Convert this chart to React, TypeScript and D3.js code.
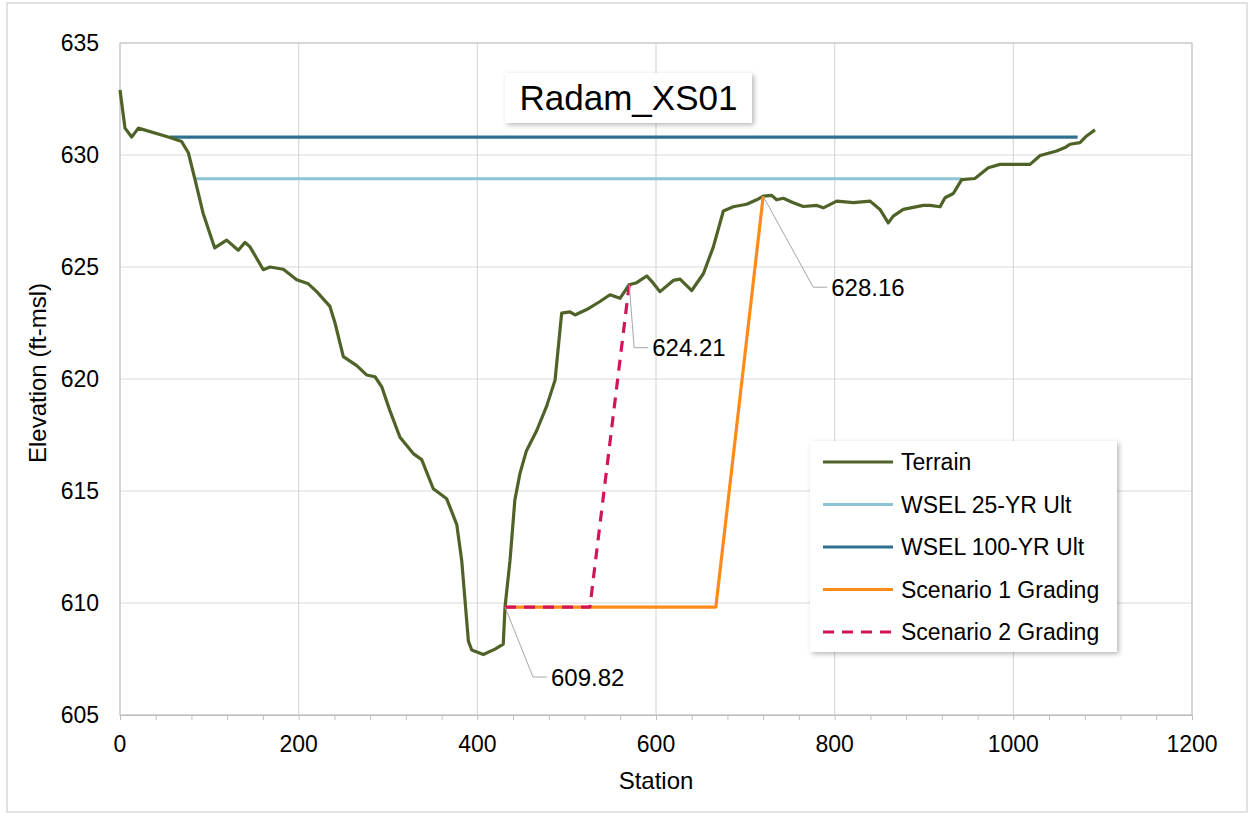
import React, { useEffect, useRef } from "react"
import * as d3 from "d3"

// terrain profile [station, elevation]
const terrain: [number, number][] = [
    [0, 632.9], [5.6, 631.2], [13.1, 630.8], [20.5, 631.2], [56, 630.78],
    [69, 630.6], [76.5, 630.1], [84, 628.9], [93, 627.4], [106, 625.85],
    [119.4, 626.2], [132.4, 625.75], [140, 626.1], [145.5, 625.9], [160.4, 624.88],
    [168, 625.0], [182.8, 624.9], [197.8, 624.43], [210.8, 624.25], [220.2, 623.9],
    [235, 623.24], [240.7, 622.5], [250, 621.0], [265, 620.6], [276, 620.18],
    [285.5, 620.1], [293, 619.65], [302, 618.6], [313.4, 617.4], [328.3, 616.67],
    [337.7, 616.4], [350.7, 615.1], [365.7, 614.65], [377, 613.5], [382.5, 611.9],
    [390, 608.3], [393.7, 607.9], [406.7, 607.7], [419.8, 607.94], [429, 608.16],
    [431, 609.82], [436.6, 611.9], [442, 614.6], [447.8, 615.8], [455, 616.8],
    [466.5, 617.7], [477.7, 618.8], [487, 619.95], [494.4, 622.94], [503.7, 623.0],
    [509.3, 622.86], [522.4, 623.1], [537.3, 623.46], [548.5, 623.76], [559.7, 623.6],
    [570, 624.21], [578.4, 624.3], [589.6, 624.6], [595.2, 624.36], [604.5, 623.9],
    [619.4, 624.4], [626.9, 624.46], [640, 623.95], [653, 624.7], [664.2, 625.9],
    [675.4, 627.5], [686.5, 627.69], [701.5, 627.8], [712.7, 628.0], [720, 628.16],
    [729.5, 628.2], [735, 628.0], [742.5, 628.07], [753.7, 627.87], [764.9, 627.7],
    [780, 627.75], [787.3, 627.64], [802.3, 627.94], [820.9, 627.87], [839.6, 627.94],
    [850.7, 627.57], [860, 626.97], [865.6, 627.27], [876.8, 627.57], [899.2, 627.75],
    [906.7, 627.75], [918, 627.69], [923.5, 628.09], [932.8, 628.28], [942.2, 628.9],
    [957, 628.95], [972, 629.43], [985, 629.58], [1000, 629.58], [1018.7, 629.58],
    [1030, 629.98], [1048.5, 630.18], [1057.8, 630.33], [1063.4, 630.48], [1074.6, 630.55],
    [1082, 630.85], [1091.4, 631.12],
]

const wsel25: [number, number][] = [[84, 628.94], [942, 628.94]]
const wsel100: [number, number][] = [[56, 630.8], [1072, 630.8]]
const scenario1: [number, number][] = [[431, 609.82], [667, 609.82], [720, 628.16]]
const scenario2: [number, number][] = [[431, 609.82], [526, 609.82], [570, 624.21]]

const xTicks = [0, 200, 400, 600, 800, 1000, 1200]
const yTicks = [605, 610, 615, 620, 625, 630, 635]

// callouts: anchor point, elbow offset, label
const callouts = [
    { st: 431, el: 609.82, dx: 28, dy: 70, text: "609.82" },
    { st: 570, el: 624.21, dx: 5, dy: 63, text: "624.21" },
    { st: 720, el: 628.16, dx: 50, dy: 91, text: "628.16" },
]

const series = [
    { name: "Terrain", data: terrain, color: "#4f6228", dash: null },
    { name: "WSEL 25-YR Ult", data: wsel25, color: "#8cc3d6", dash: null },
    { name: "WSEL 100-YR Ult", data: wsel100, color: "#2f7090", dash: null },
    { name: "Scenario 1 Grading", data: scenario1, color: "#ff8c1a", dash: null },
    { name: "Scenario 2 Grading", data: scenario2, color: "#d2145a", dash: "11,8" },
]

const FONT = "'Liberation Sans', Arial, sans-serif"

const App = () => {
    const svgRef = useRef<SVGSVGElement>(null)

    useEffect(() => {
        if (!svgRef.current) return
        const svg = d3.select(svgRef.current)
        svg.selectAll("*").remove()

        const W = 1251
        const H = 817
        const left = 120
        const right = 1192
        const top = 43
        const bottom = 715

        const x = d3.scaleLinear().domain([0, 1200]).range([left, right])
        const y = d3.scaleLinear().domain([605, 635]).range([bottom, top])

        const defs = svg.append("defs")
        const f = defs.append("filter").attr("id", "shadow")
            .attr("x", "-10%").attr("y", "-10%").attr("width", "125%").attr("height", "130%")
        f.append("feDropShadow").attr("dx", 2).attr("dy", 2).attr("stdDeviation", 2.5)
            .attr("flood-color", "#000").attr("flood-opacity", 0.28)

        svg.append("rect").attr("width", W).attr("height", H).attr("fill", "#fff")
        svg.append("rect").attr("x", 7).attr("y", 3).attr("width", 1240).attr("height", 809)
            .attr("fill", "none").attr("stroke", "#d9d9d9").attr("stroke-width", 1.5)

        // gridlines
        const grid = svg.append("g").attr("stroke", "#d9d9d9").attr("stroke-width", 1.2)
        xTicks.forEach((t) => {
            grid.append("line").attr("x1", x(t)).attr("x2", x(t)).attr("y1", top).attr("y2", bottom)
        })
        yTicks.forEach((t) => {
            grid.append("line").attr("x1", left).attr("x2", right).attr("y1", y(t)).attr("y2", y(t))
        })
        svg.append("rect").attr("x", left).attr("y", top).attr("width", right - left)
            .attr("height", bottom - top).attr("fill", "none").attr("stroke", "#c8c8c8").attr("stroke-width", 1.2)

        // x axis with minor ticks
        const xAxis = svg.append("g").attr("transform", `translate(0,${bottom})`)
            .call(d3.axisBottom(x).tickValues(d3.range(0, 1201, 40)).tickSize(5).tickFormat(() => ""))
        xAxis.select(".domain").attr("stroke", "#bfbfbf")
        xAxis.selectAll(".tick line").attr("stroke", "#bfbfbf")

        const labels = svg.append("g").attr("font-family", FONT).attr("font-size", 23).attr("fill", "#000")
        xTicks.forEach((t) => {
            labels.append("text").attr("x", x(t)).attr("y", 752).attr("text-anchor", "middle").text(t)
        })
        yTicks.forEach((t) => {
            labels.append("text").attr("x", 99).attr("y", y(t) + 8).attr("text-anchor", "end").text(t)
        })
        labels.append("text").attr("x", (left + right) / 2).attr("y", 789).attr("text-anchor", "middle")
            .attr("font-size", 24).text("Station")
        labels.append("text").attr("transform", `translate(46,${(top + bottom) / 2 - 6}) rotate(-90)`)
            .attr("text-anchor", "middle").attr("font-size", 24).text("Elevation (ft-msl)")

        // series
        const line = d3.line<[number, number]>().x((d) => x(d[0])).y((d) => y(d[1]))
        const order = [1, 2, 0, 3, 4]
        order.forEach((i) => {
            const s = series[i]
            svg.append("path").datum(s.data).attr("d", line).attr("fill", "none")
                .attr("stroke", s.color).attr("stroke-width", 3.2)
                .attr("stroke-linejoin", "round")
                .attr("stroke-dasharray", s.dash)
        })

        // callouts
        callouts.forEach((c) => {
            const px = x(c.st)
            const py = y(c.el)
            svg.append("polyline")
                .attr("points", `${px},${py} ${px + c.dx},${py + c.dy} ${px + c.dx + 14},${py + c.dy}`)
                .attr("fill", "none").attr("stroke", "#a6a6a6").attr("stroke-width", 1)
            svg.append("text").attr("x", px + c.dx + 18).attr("y", py + c.dy + 8.5)
                .attr("font-family", FONT).attr("font-size", 24).text(c.text)
        })

        // title box
        svg.append("rect").attr("x", 505).attr("y", 73).attr("width", 247).attr("height", 50)
            .attr("fill", "#fff").attr("filter", "url(#shadow)")
        svg.append("text").attr("x", 628.5).attr("y", 110).attr("text-anchor", "middle")
            .attr("font-family", FONT).attr("font-size", 35).text("Radam_XS01")

        // legend
        svg.append("rect").attr("x", 810).attr("y", 441).attr("width", 307).attr("height", 211)
            .attr("fill", "#fff").attr("filter", "url(#shadow)")
        series.forEach((s, i) => {
            const ly = 462 + i * 42.5
            svg.append("line").attr("x1", 823).attr("x2", 893).attr("y1", ly).attr("y2", ly)
                .attr("stroke", s.color).attr("stroke-width", 3.2).attr("stroke-dasharray", s.dash)
            svg.append("text").attr("x", 901).attr("y", ly + 8).attr("font-family", FONT)
                .attr("font-size", 23).text(s.name)
        })
    }, [])

    return (
        <svg
            ref={svgRef}
            width={1251}
            height={817}
            style={{ position: "absolute", left: 0, top: 0 }}
        />
    )
}

export default App
